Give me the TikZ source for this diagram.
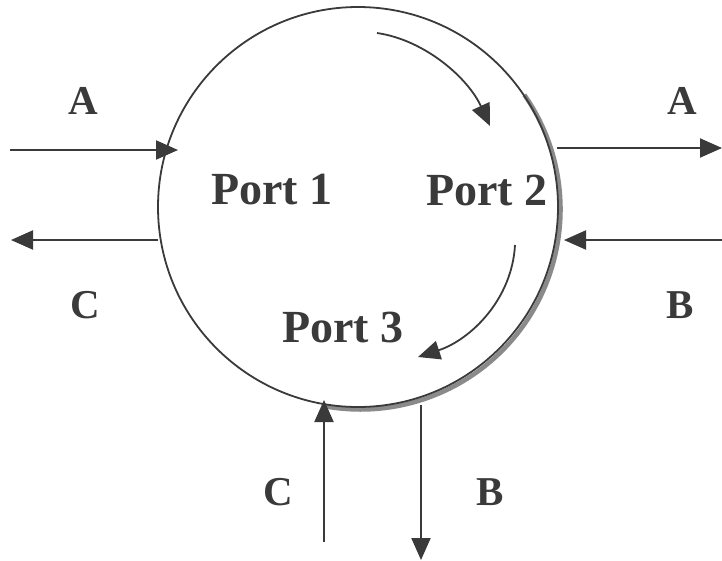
\documentclass[tikz,border=0pt]{standalone}
\usepackage{fontspec}
\setmainfont{Liberation Serif}
\usetikzlibrary{arrows.meta}
\definecolor{ink}{HTML}{3A3A3A}
\definecolor{shade}{HTML}{8A8A8A}
\tikzset{
  flow/.style={draw=ink, line width=2pt, -{Triangle[length=22pt,width=19pt]}},
  inner/.style={draw=ink, line width=1.8pt, -{Triangle[length=22pt,width=19pt]}},
  portlbl/.style={font=\bfseries\fontsize{46}{50}\selectfont, text=ink, inner sep=0pt},
  letter/.style={font=\bfseries\fontsize{41}{45}\selectfont, text=ink, inner sep=0pt},
  ringstyle/.style={circle, draw=ink, line width=1.8pt, minimum size=400pt, inner sep=0pt},
  shadowline/.style={draw=shade, line width=4.5pt}
}
\begin{document}
\begin{tikzpicture}[x=1pt,y=-1pt]
\useasboundingbox (0,0) rectangle (722,560);
\fill[white] (0,0) rectangle (722,560);
% shadow
\draw[shadowline] (360.5,209.5) ++(-35:200) arc[start angle=-35, end angle=100, radius=200];
\node[ringstyle] (ring) at (358,207) {};
% labels
\node[portlbl] (p1) at (272,190) {Port 1};
\node[portlbl] (p2) at (487,190) {Port 2};
\node[portlbl] (p3) at (343,327) {Port 3};
\node[letter] (la1) at (83,101) {A};
\node[letter] (la2) at (682,101) {A};
\node[letter] (lc1) at (85,305) {C};
\node[letter] (lb1) at (680,305) {B};
\node[letter] (lc2) at (278,492) {C};
\node[letter] (lb2) at (490,492) {B};
% connector ends
\coordinate (ainS) at (10,150);   \coordinate (ainE) at (178,150);
\coordinate (coutS) at (158,240); \coordinate (coutE) at (11,240);
\coordinate (aoutS) at (557,148); \coordinate (aoutE) at (722,148);
\coordinate (binS) at (722,240);  \coordinate (binE) at (564,240);
\coordinate (cupS) at (324,542);  \coordinate (cupE) at (324,400);
\coordinate (bdnS) at (421,405);  \coordinate (bdnE) at (421,560);
\coordinate (t1) at (377,33);     \coordinate (t2) at (490,126);
\coordinate (b1) at (515,245);    \coordinate (b2) at (418,357);
% connectors
\draw[flow] (ainS) -- (ainE);
\draw[flow] (coutS) -- (coutE);
\draw[flow] (aoutS) -- (aoutE);
\draw[flow] (binS) -- (binE);
\draw[flow] (cupS) -- (cupE);
\draw[flow] (bdnS) -- (bdnE);
\draw[inner] (t1) .. controls (425,40) and (468,78) .. (t2);
\draw[inner] (b1) .. controls (512,300) and (470,340) .. (b2);
\end{tikzpicture}
\end{document}
